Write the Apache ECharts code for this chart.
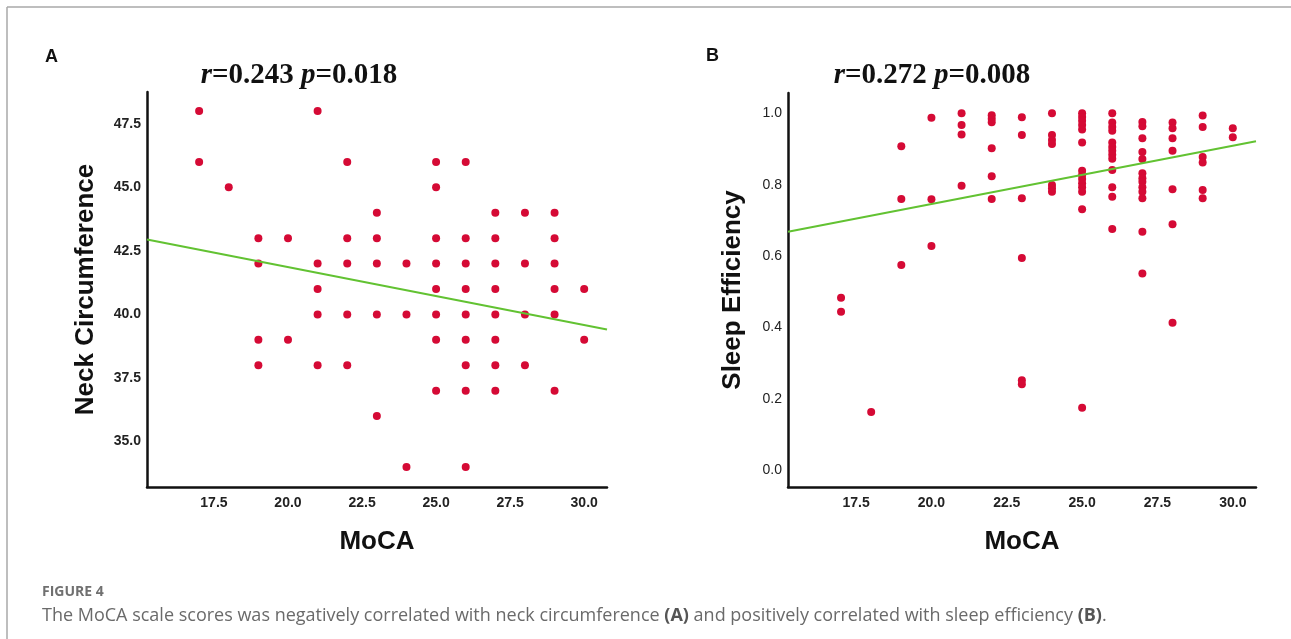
<!DOCTYPE html>
<html>
<head>
<meta charset="utf-8">
<script src="https://cdn.jsdelivr.net/npm/echarts@6/dist/echarts.min.js"></script>
<style>
html,body{margin:0;padding:0;background:#fff;}
#chart{width:1291px;height:639px;}
</style>
</head>
<body>
<div id="chart"></div>
<script>
// ---- Data ----
const mocaScores = [17, 18, 19, 20, 21, 22, 23, 24, 25, 26, 27, 28, 29, 30];
const neckByScore = [
  [48, 46],
  [45],
  [43, 42, 39, 38],
  [43, 39],
  [48, 42, 41, 40, 38],
  [46, 43, 42, 40, 38],
  [44, 43, 42, 40, 36],
  [42, 40, 34],
  [46, 45, 43, 42, 41, 40, 39, 37],
  [46, 43, 42, 41, 40, 39, 38, 37, 34],
  [44, 43, 42, 41, 40, 39, 38, 37],
  [44, 42, 40, 38],
  [44, 43, 42, 41, 40, 37],
  [41, 39]
];
const sleepByScore = [
  [0.483, 0.444],
  [0.163],
  [0.908, 0.760, 0.575],
  [0.988, 0.759, 0.628],
  [1.0, 0.967, 0.941, 0.797],
  [0.995, 0.985, 0.975, 0.902, 0.824, 0.760],
  [0.989, 0.939, 0.762, 0.595, 0.252, 0.241],
  [1.0, 0.939, 0.925, 0.914, 0.799, 0.790, 0.780],
  [1.0, 0.990, 0.979, 0.967, 0.955, 0.918, 0.839, 0.827, 0.816, 0.804, 0.793, 0.780, 0.731, 0.175],
  [1.0, 0.974, 0.962, 0.951, 0.918, 0.906, 0.895, 0.884, 0.873, 0.841, 0.793, 0.766, 0.676],
  [0.976, 0.964, 0.930, 0.892, 0.872, 0.832, 0.818, 0.808, 0.793, 0.780, 0.762, 0.668, 0.551],
  [0.974, 0.958, 0.930, 0.895, 0.787, 0.689, 0.413],
  [0.994, 0.962, 0.878, 0.862, 0.785, 0.762],
  [0.958, 0.933]
];
// fitted regression lines (end points at axis limits)
const fitLineA = [[15.24, 42.95], [30.77, 39.41]];
const fitLineB = [[15.24, 0.668], [30.77, 0.922]];
// tick labels
const xTicks = [17.5, 20.0, 22.5, 25.0, 27.5, 30.0];
const yTicksA = [35.0, 37.5, 40.0, 42.5, 45.0, 47.5];
const yTicksB = [0.0, 0.2, 0.4, 0.6, 0.8, 1.0];
const titleA = ['r', '=0.243 ', 'p', '=0.018'];
const titleB = ['r', '=0.272 ', 'p', '=0.008'];

function pairs(byScore) {
  const out = [];
  mocaScores.forEach((s, i) => byScore[i].forEach(v => out.push([s, v])));
  return out;
}

const chart = echarts.init(document.getElementById('chart'), null, {renderer: 'canvas'});
const SANS = '"Liberation Sans", Arial, sans-serif';
const RED = '#d50a35';
const GREEN = '#62c232';

function xAxisCfg(gi) {
  return {
    gridIndex: gi, type: 'value', min: 15.24, max: 30.77,
    name: 'MoCA', nameLocation: 'middle', nameGap: 42,
    nameTextStyle: {fontFamily: SANS, fontWeight: 'bold', fontSize: 26, color: '#111'},
    axisLine: {show: true, onZero: false, lineStyle: {color: '#111', width: 2.5}},
    axisTick: {show: false},
    splitLine: {show: false},
    axisLabel: {customValues: xTicks, formatter: v => v.toFixed(1), margin: 9,
      fontFamily: SANS, fontWeight: 'bold', fontSize: 14, color: '#222'}
  };
}

const option = {
  animation: false,
  backgroundColor: '#fff',
  grid: [
    {left: 147, right: 684, top: 92, bottom: 152},
    {left: 788, right: 35, top: 93, bottom: 152}
  ],
  xAxis: [xAxisCfg(0), xAxisCfg(1)],
  yAxis: [
    {
      gridIndex: 0, type: 'value', min: 33.21, max: 48.75,
      name: 'Neck Circumference', nameLocation: 'middle', nameGap: 48,
      nameTextStyle: {fontFamily: SANS, fontWeight: 'bold', fontSize: 26, color: '#111'},
      axisLine: {show: true, onZero: false, lineStyle: {color: '#111', width: 2.5}},
      axisTick: {show: false}, splitLine: {show: false},
      axisLabel: {customValues: yTicksA, formatter: v => v.toFixed(1), margin: 6,
        fontFamily: SANS, fontWeight: 'bold', fontSize: 14, color: '#222'}
    },
    {
      gridIndex: 1, type: 'value', min: -0.047, max: 1.057,
      name: 'Sleep Efficiency', nameLocation: 'middle', nameGap: 42,
      nameTextStyle: {fontFamily: SANS, fontWeight: 'bold', fontSize: 26, color: '#111'},
      axisLine: {show: true, onZero: false, lineStyle: {color: '#111', width: 2.5}},
      axisTick: {show: false}, splitLine: {show: false},
      axisLabel: {customValues: yTicksB, formatter: v => v.toFixed(1), margin: 6,
        fontFamily: SANS, fontSize: 14, color: '#222'}
    }
  ],
  series: [
    {type: 'scatter', xAxisIndex: 0, yAxisIndex: 0, data: pairs(neckByScore),
      symbolSize: 8, itemStyle: {color: RED, opacity: 1}, z: 3},
    {type: 'line', xAxisIndex: 0, yAxisIndex: 0, data: fitLineA, symbol: 'none',
      lineStyle: {color: GREEN, width: 2}, z: 4},
    {type: 'scatter', xAxisIndex: 1, yAxisIndex: 1, data: pairs(sleepByScore),
      symbolSize: 8, itemStyle: {color: RED, opacity: 1}, z: 3},
    {type: 'line', xAxisIndex: 1, yAxisIndex: 1, data: fitLineB, symbol: 'none',
      lineStyle: {color: GREEN, width: 2}, z: 4}
  ],
  graphic: [
    {type: 'line', shape: {x1: 7, y1: 7, x2: 1291, y2: 7}, style: {stroke: '#a8a8a8', lineWidth: 1.5}},
    {type: 'line', shape: {x1: 7, y1: 7, x2: 7, y2: 639}, style: {stroke: '#a8a8a8', lineWidth: 1.5}},
    {type: 'text', left: 45, top: 48, style: {text: 'A', font: 'bold 18px ' + SANS, fill: '#111'}},
    {type: 'text', left: 706, top: 47, style: {text: 'B', font: 'bold 18px ' + SANS, fill: '#111'}},
    {type: 'text', x: 299, y: 76, style: {
      text: '{i|' + titleA[0] + '}{b|' + titleA[1] + '}{i|' + titleA[2] + '}{b|' + titleA[3] + '}',
      align: 'center', verticalAlign: 'middle',
      rich: {
        i: {fontFamily: '"Liberation Serif", serif', fontSize: 29, fontWeight: 'bold', fontStyle: 'italic', fill: '#111'},
        b: {fontFamily: '"Liberation Serif", serif', fontSize: 29, fontWeight: 'bold', fill: '#111'}
      }}},
    {type: 'text', x: 932, y: 76, style: {
      text: '{i|' + titleB[0] + '}{b|' + titleB[1] + '}{i|' + titleB[2] + '}{b|' + titleB[3] + '}',
      align: 'center', verticalAlign: 'middle',
      rich: {
        i: {fontFamily: '"Liberation Serif", serif', fontSize: 29, fontWeight: 'bold', fontStyle: 'italic', fill: '#111'},
        b: {fontFamily: '"Liberation Serif", serif', fontSize: 29, fontWeight: 'bold', fill: '#111'}
      }}},
    {type: 'text', x: 42, y: 592, style: {text: 'FIGURE 4', verticalAlign: 'middle',
      font: 'bold 14px "Open Sans", sans-serif', fill: '#707070'}},
    {type: 'text', x: 42, y: 616, style: {
      text: '{n|The MoCA scale scores was negatively correlated with neck circumference }{b|(A)}{n| and positively correlated with sleep efficiency }{b|(B)}{n|.}',
      verticalAlign: 'middle',
      rich: {
        n: {fontFamily: '"Open Sans", sans-serif', fontSize: 18, fill: '#6a6a6a'},
        b: {fontFamily: '"Open Sans", sans-serif', fontSize: 18, fontWeight: 'bold', fill: '#555'}
      }}}
  ]
};
chart.setOption(option);
</script>
</body>
</html>
